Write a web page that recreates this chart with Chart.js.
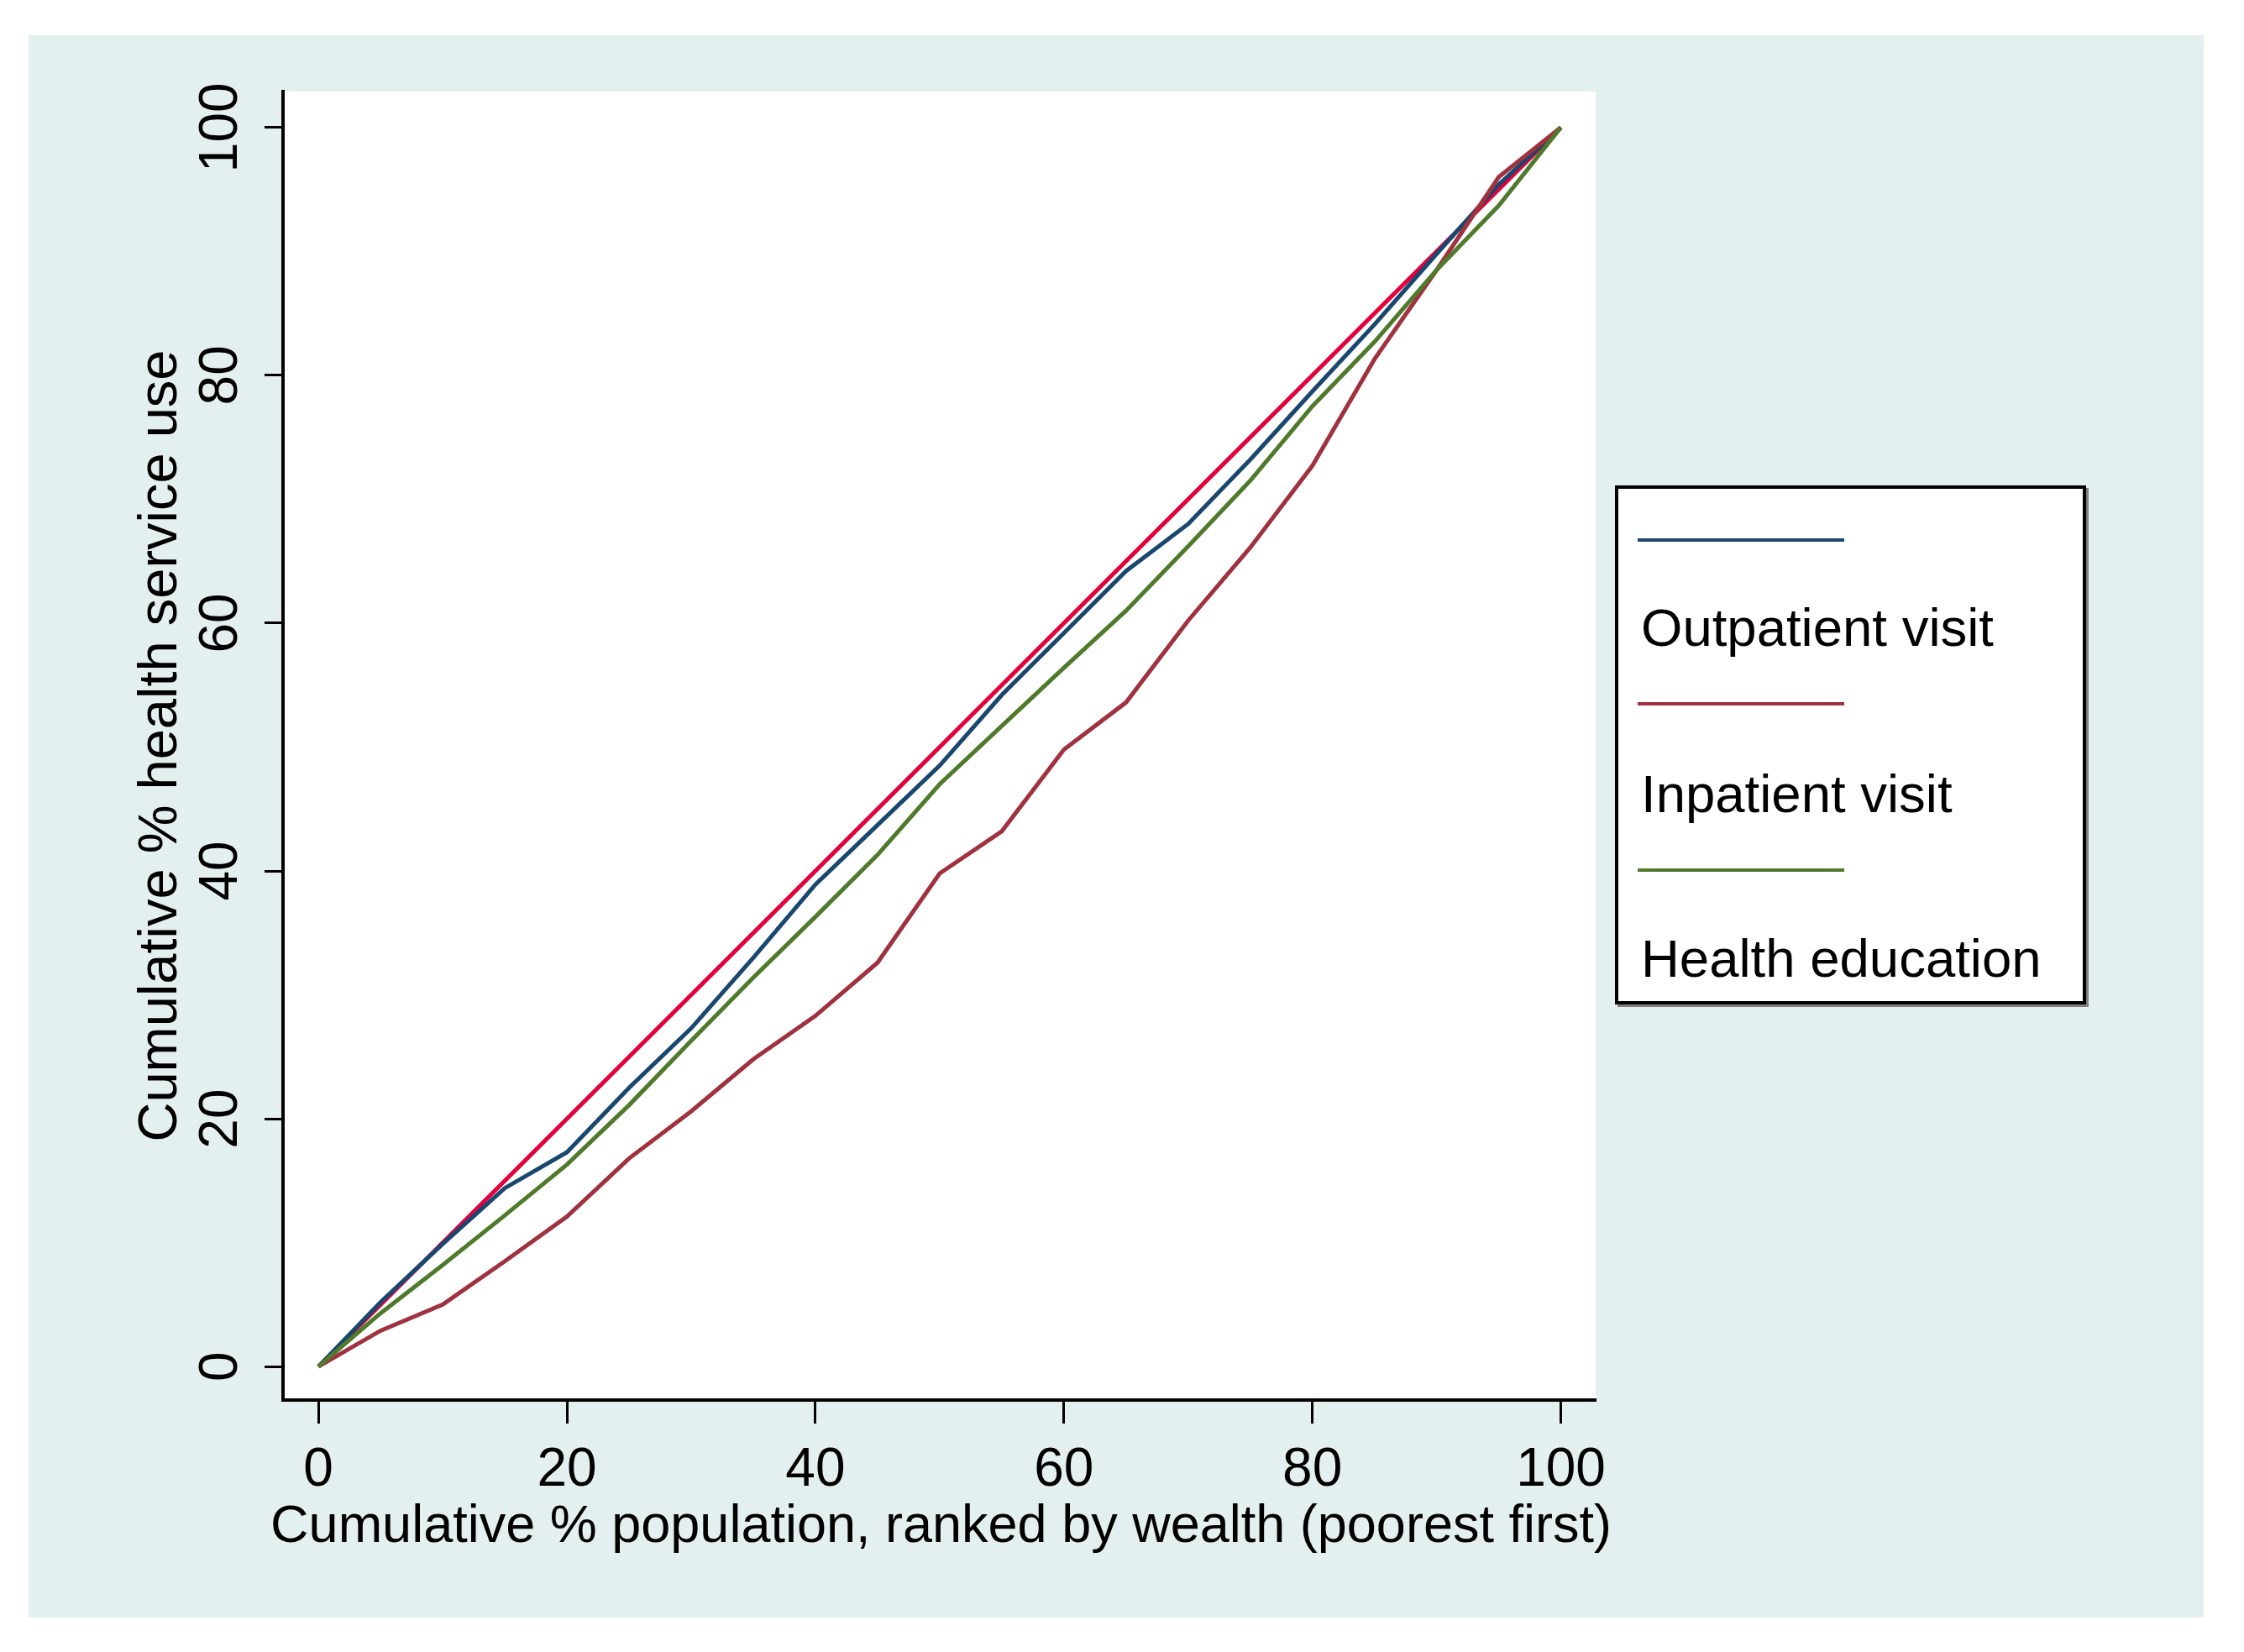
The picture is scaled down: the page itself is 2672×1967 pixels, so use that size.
<!DOCTYPE html>
<html>
<head>
<meta charset="utf-8">
<script src="https://cdn.jsdelivr.net/npm/chart.js@4.4.1/dist/chart.umd.min.js"></script>
<style>
  html, body { margin: 0; padding: 0; background: #ffffff; }
  #wrap { position: relative; width: 2672px; height: 1967px; overflow: hidden; }
  #bg { position: absolute; left: 34px; top: 42px; width: 2590px; height: 1884px; background: #e4eff0; }
  #cv { position: absolute; left: 0; top: 0; }
  #legend { position: absolute; left: 1923px; top: 578px; width: 553px; height: 610px;
            background: #fff; border: 4px solid #000; box-shadow: 3px 3px 0 #808080; }
  .key { position: absolute; left: 23px; width: 246px; height: 4px; }
  .lab { position: absolute; left: 27px; font-family: "Liberation Sans", Arial, sans-serif;
         font-size: 63.5px; line-height: 64px; color: #000; white-space: nowrap; }
</style>
</head>
<body>
<div id="wrap">
  <div id="bg"></div>
  <canvas id="cv" width="2672" height="1967" style="width:2672px;height:1967px"></canvas>
  <div id="legend"></div>
</div>
<script>
// ---- data ----
const popShare = [0,5,10,15,20,25,30,35,40,45,50,55,60,65,70,75,80,85,90,95,100];
const outpatientVisit = [0,5.2,9.9,14.4,17.3,22.5,27.3,33.0,38.9,43.7,48.5,54.2,59.2,64.2,68.0,73.2,78.7,84.1,89.8,95.4,100];
const inpatientVisit  = [0,2.9,5.0,8.5,12.1,16.8,20.6,24.8,28.3,32.6,39.8,43.2,49.8,53.6,60.2,66.1,72.7,81.3,88.5,96.0,100];
const healthEducation = [0,4.3,8.2,12.2,16.3,21.1,26.3,31.4,36.3,41.3,47.0,51.7,56.4,61.0,66.2,71.5,77.5,82.7,88.5,93.7,100];
const equalityX = [0,100];
const equalityY = [0,100];
const xTicks = [0,20,40,60,80,100];
const yTicks = [0,20,40,60,80,100];
const xTitle = "Cumulative % population, ranked by wealth (poorest first)";
const yTitle = "Cumulative % health service use";
const legendLabels = ["Outpatient visit", "Inpatient visit", "Health education"];

const colNavy = "#1a476f", colMaroon = "#a0313f", colGreen = "#4f7a2b", colRed = "#e4003b";
const FONT = '"Liberation Sans", Arial, sans-serif';
const FS = 64;

const pts = (xs, ys) => xs.map((x, i) => ({x: x, y: ys[i]}));

// legend (HTML, real text)
(function buildLegend(){
  const lg = document.getElementById('legend');
  const keys = [colNavy, colMaroon, colGreen];
  const keyTops = [59, 254, 452];
  const labTops = [133, 331, 527];
  keys.forEach((c, i) => {
    const k = document.createElement('div');
    k.className = 'key'; k.style.background = c; k.style.top = keyTops[i] + 'px';
    lg.appendChild(k);
    const t = document.createElement('div');
    t.className = 'lab'; t.textContent = legendLabels[i]; t.style.top = labTops[i] + 'px';
    lg.appendChild(t);
  });
})();

const plotBg = {
  id: 'plotBg',
  beforeDraw(chart) {
    const {ctx, chartArea: a} = chart;
    ctx.save(); ctx.fillStyle = '#ffffff';
    ctx.fillRect(a.left, a.top, a.right - a.left, a.bottom - a.top);
    ctx.restore();
  }
};

// y tick labels (rotated, as in the reference) and the x-axis title (wider than the axis)
const axisText = {
  id: 'axisText',
  afterDraw(chart) {
    const ctx = chart.ctx, s = chart.scales.y, a = chart.chartArea;
    ctx.save();
    ctx.font = FS + 'px ' + FONT;
    ctx.fillStyle = '#000';
    ctx.textAlign = 'center';
    ctx.textBaseline = 'middle';
    yTicks.forEach(v => {
      const py = s.getPixelForValue(v);
      ctx.save();
      ctx.translate(264, py);
      ctx.rotate(-Math.PI / 2);
      ctx.fillText(String(v), 0, 0);
      ctx.restore();
    });
    ctx.font = '63px ' + FONT;
    ctx.fillText(xTitle, (a.left + a.right) / 2 + 2, 1819);
    ctx.restore();
  }
};

new Chart(document.getElementById('cv'), {
  type: 'line',
  data: {
    datasets: [
      { label: legendLabels[2], data: pts(popShare, healthEducation), borderColor: colGreen, order: 0 },
      { label: legendLabels[1], data: pts(popShare, inpatientVisit), borderColor: colMaroon, order: 1 },
      { label: legendLabels[0], data: pts(popShare, outpatientVisit), borderColor: colNavy, order: 2 },
      { label: 'Line of equality', data: pts(equalityX, equalityY), borderColor: colRed, order: 3 }
    ]
  },
  options: {
    responsive: false,
    devicePixelRatio: 1,
    animation: false,
    events: [],
    datasets: { line: { borderWidth: 5, pointRadius: 0, tension: 0, fill: false } },
    layout: { padding: { left: 40, top: 109, right: 772, bottom: 41 } },
    plugins: { legend: { display: false }, tooltip: { enabled: false }, title: { display: false } },
    scales: {
      x: {
        type: 'linear', position: 'bottom',
        min: -2.85, max: 102.8,
        afterBuildTicks: s => { s.ticks = xTicks.map(v => ({value: v})); },
        afterFit: s => { s.height = 259; },
        grid: { drawOnChartArea: false, drawTicks: true, tickLength: 28, tickWidth: 3, tickColor: '#000' },
        border: { display: true, color: '#000', width: 4 },
        ticks: { font: { family: FONT, size: FS }, color: '#000', padding: 18, maxRotation: 0, minRotation: 0 },
        title: { display: false }
      },
      y: {
        type: 'linear', position: 'left',
        min: -2.7, max: 102.9,
        afterBuildTicks: s => { s.ticks = yTicks.map(v => ({value: v})); },
        afterFit: s => { s.width = 297; },
        grid: { drawOnChartArea: false, drawTicks: true, tickLength: 22, tickWidth: 3, tickColor: '#000' },
        border: { display: true, color: '#000', width: 4 },
        ticks: { display: false },
        title: { display: true, text: yTitle, color: '#000', font: { family: FONT, size: 65 }, padding: { top: 113, bottom: 0 } }
      }
    }
  },
  plugins: [plotBg, axisText]
});
</script>
</body>
</html>
